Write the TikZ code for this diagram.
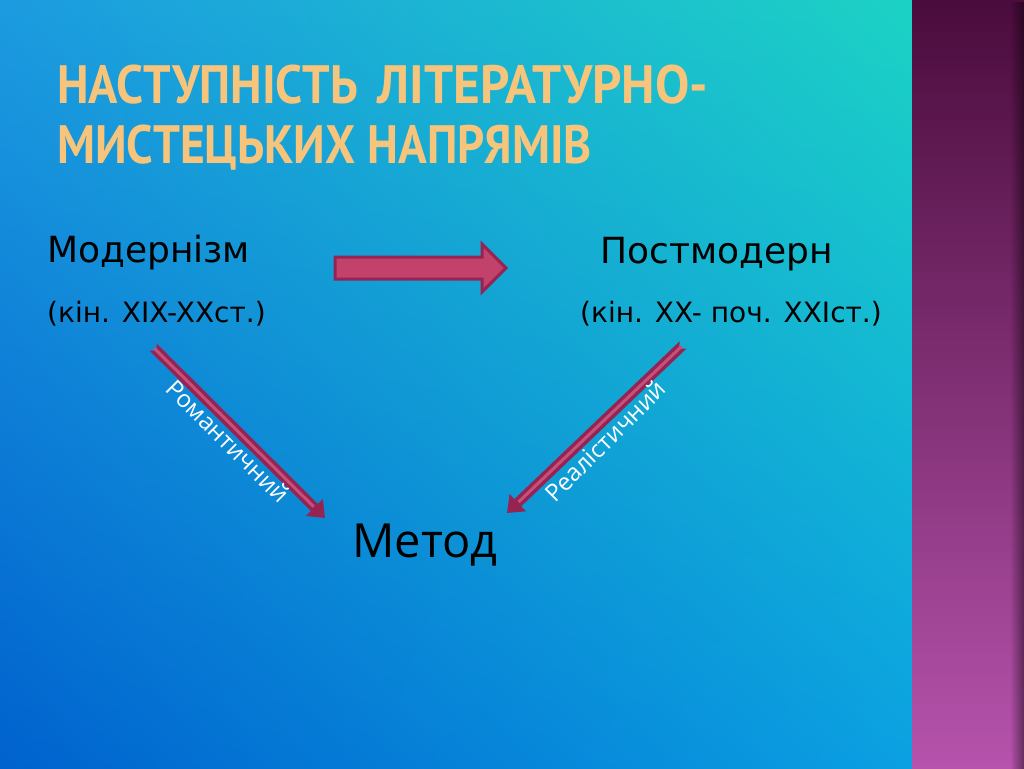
\documentclass[tikz,border=0pt]{standalone}
\usepackage{fontspec}
\usetikzlibrary{arrows.meta,fadings,shadings}
\newfontfamily\comicf{DejaVu Sans}
\newfontfamily\methodf{Open Sans}
\newfontfamily\titlef[FakeStretch=0.88]{PT Sans}
\definecolor{bgUL}{HTML}{1C9BE0}
\definecolor{bgUR}{HTML}{1CD2C4}
\definecolor{bgLL}{HTML}{0062CE}
\definecolor{bgLR}{HTML}{0BA0E2}
\definecolor{stripTop}{HTML}{4A0C3C}
\definecolor{stripBot}{HTML}{B653AC}
\definecolor{titleCol}{HTML}{F7C47C}
\definecolor{arrowFill}{HTML}{C2426C}
\definecolor{arrowDark}{HTML}{962452}
\definecolor{arrowLight}{HTML}{C6507C}
\tikzfading[name=edgefade, left color=transparent!100, right color=transparent!0]
\tikzset{
  titlestyle/.style={inner sep=0pt, text=titleCol, font=\titlef\bfseries\fontsize{54}{60}\selectfont},
  bigtext/.style={inner sep=0pt, text=black, font=\comicf\fontsize{36}{40}\selectfont},
  datetext/.style={inner sep=0pt, text=black, font=\comicf\fontsize{28}{32}\selectfont},
  methtext/.style={inner sep=0pt, text=black, font=\methodf\fontsize{47}{52}\selectfont},
  lbl/.style={inner sep=0pt, text=white, font=\methodf\fontsize{24}{27}\selectfont},
  blockarrow/.style={fill=arrowFill, draw=arrowDark, line width=3pt, line join=miter},
  diagouter/.style={draw=arrowDark, line width=10pt, {Triangle Cap[reversed]}-{Triangle[length=15pt,width=23pt]}},
  diaginner/.style={draw=arrowLight, line width=3pt, shorten >=16pt, shorten <=2pt}
}
\begin{document}
\begin{tikzpicture}[x=1pt,y=-1pt]
\useasboundingbox (0,0) rectangle (1024,768);
\shade[upper left=bgUL, upper right=bgUR, lower left=bgLL, lower right=bgLR] (0,0) rectangle (912,768);
\shade[top color=stripTop, bottom color=stripBot] (912,0) rectangle (1024,768);
\fill[black, opacity=0.45, path fading=edgefade] (1010,0) rectangle (1024,768);

\node[titlestyle, anchor=base west] (t1) at (57,103) {\scalebox{1.02}[1]{НАСТУПНІСТЬ}\hspace{20pt}\scalebox{1.08}[1]{ЛІТЕРАТУРНО-}};
\node[titlestyle, anchor=base west] (t2) at (57,163) {МИСТЕЦЬКИХ НАПРЯМІВ};

\node[bigtext, anchor=base west] (mod) at (47,262) {Модернізм};
\node[datetext, anchor=base west] (modd) at (47,322) {(кін. XIX-XXст.)};
\node[bigtext, anchor=base west] (post) at (600,263) {Постмодерн};
\node[datetext, anchor=base west] (postd) at (580,322) {(кін. XX- поч. XXIст.)};
\node[methtext, anchor=base west] (meth) at (352,557) {Метод};

\draw[blockarrow] (335,257) -- (482,257) -- (482,244) -- (506,268) -- (482,292) -- (482,279) -- (335,279) -- cycle;

\coordinate (lt) at (153,347);
\coordinate (lh) at (325,518);
\coordinate (rt) at (683,345);
\coordinate (rh) at (507,513);
\draw[diagouter] (lt) -- (lh);
\draw[diaginner] (lt) -- (lh);
\draw[diagouter] (rt) -- (rh);
\draw[diaginner] (rt) -- (rh);

\node[lbl, rotate=-45] (rom) at (228,441) {Романтичний};
\node[lbl, rotate=45] (real) at (605,441) {Реалістичний};
\end{tikzpicture}
\end{document}
